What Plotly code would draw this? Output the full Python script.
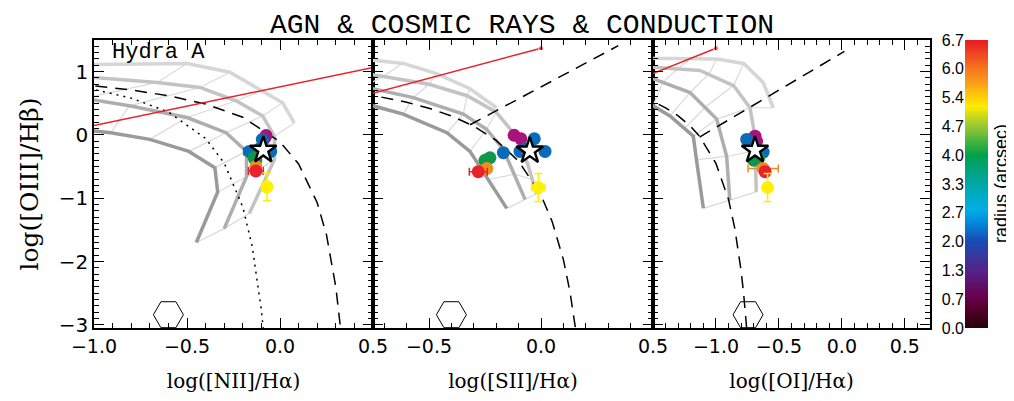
import numpy as np
import plotly.graph_objects as go

# ---------------- data ----------------
TITLE = "AGN &amp; COSMIC RAYS &amp; CONDUCTION"
GALAXY = "Hydra A"

# observed line ratios (log), grouped by radius colour class
nii_x    = [-0.075, -0.085, -0.095, -0.165, -0.05, -0.11, -0.14, -0.13, -0.13, -0.13, -0.07]
nii_y    = [-0.01, -0.06, -0.07, -0.26, -0.26, -0.22, -0.36, -0.40, -0.50, -0.57, -0.82]
nii_grp  = ["mag", "mag", "blue", "blue", "blue", "blue", "green", "green", "orange", "red", "yellow"]
nii_xerr = [0, 0, 0, 0.03, 0, 0, 0, 0, 0.02, 0.04, 0]
nii_yerr = [0, 0, 0, 0, 0, 0, 0, 0, 0, 0, 0.22]

sii_x    = [-0.12, -0.09, -0.03, -0.168, -0.094, 0.018, -0.07, -0.228, -0.25, -0.242, -0.28, -0.012]
sii_y    = [-0.005, -0.06, -0.06, -0.28, -0.26, -0.26, -0.22, -0.36, -0.40, -0.53, -0.58, -0.83]
sii_grp  = ["mag", "mag", "blue", "blue", "blue", "blue", "blue", "green", "green", "orange", "red", "yellow"]
sii_xerr = [0, 0, 0, 0, 0, 0, 0, 0, 0, 0.02, 0.04, 0.03]
sii_yerr = [0, 0, 0, 0, 0, 0, 0, 0, 0, 0, 0, 0.22]

oi_x    = [-0.756, -0.69, -0.677, -0.625, -0.68, -0.70, -0.66, -0.625, -0.61, -0.59]
oi_y    = [-0.07, -0.02, -0.10, -0.27, -0.22, -0.40, -0.36, -0.53, -0.58, -0.83]
oi_grp  = ["blue", "mag", "mag", "blue", "blue", "green", "green", "orange", "red", "yellow"]
oi_xerr = [0, 0, 0, 0, 0, 0, 0, 0.12, 0.03, 0]
oi_yerr = [0, 0, 0, 0, 0, 0, 0, 0, 0, 0.22]

# integrated value (star) per panel
star_x = [-0.09, -0.05, -0.69]
star_y = [-0.24, -0.25, -0.24]

# hexagon symbol per panel
hex_x = [-0.60, -0.40, -0.745]
hex_y = [-2.84, -2.84, -2.84]

# red model line per panel: start (off-plot) and end point
red_x = [[-1.5, 1.0], [-1.0, 0.0], [-2.0, -1.0]]
red_y = [[-0.155, 1.37], [0.42, 1.37], [0.57, 1.37]]

# demarcation lines
nii_kew_x = [-1.1, -1.0, -0.8, -0.6, -0.4, -0.2, 0.0, 0.1, 0.2, 0.25, 0.3, 0.33]
nii_kew_y = [0.80, 0.775, 0.71, 0.62, 0.489, 0.28, -0.108, -0.459, -1.07, -1.58, -2.40, -3.17]
nii_kau_x = [-1.1, -1.0, -0.8, -0.6, -0.4, -0.3, -0.2, -0.15, -0.1, -0.088]
nii_kau_y = [0.77, 0.719, 0.582, 0.362, -0.056, -0.443, -1.14, -1.75, -2.77, -3.12]
sii_kew_x = [-0.8, -0.75, -0.6, -0.5, -0.4, -0.3, -0.2, -0.1, 0.0, 0.05, 0.1, 0.13, 0.16]
sii_kew_y = [0.66, 0.627, 0.517, 0.422, 0.30, 0.139, -0.085, -0.414, -0.95, -1.37, -1.97, -2.49, -3.20]
sii_sey_x = [-0.317, 0.345]
sii_sey_y = [0.161, 1.41]
oi_kew_x = [-1.6, -1.5, -1.4, -1.3, -1.2, -1.13, -1.0, -0.9, -0.85, -0.8, -0.78, -0.76, -0.753]
oi_kew_y = [0.61, 0.528, 0.429, 0.302, 0.133, -0.022, -0.45, -1.02, -1.48, -2.15, -2.51, -2.96, -3.12]
oi_sey_x = [-1.13, 0.02]
oi_sey_y = [-0.033, 1.32]

# model grids: thick curves (darkest -> lightest) and thin connecting lines
nii_thick_x = [[-1.2, -0.91, -0.70, -0.49, -0.35, -0.335, -0.45],
               [-1.1, -0.81, -0.50, -0.29, -0.18, -0.18, -0.30],
               [-1.1, -0.66, -0.43, -0.236, -0.093, -0.03, -0.03, -0.165],
               [-1.1, -0.50, -0.27, -0.093, 0.014, 0.077]]
nii_thick_y = [[0.12, 0.035, -0.07, -0.26, -0.52, -0.90, -1.70],
               [0.60, 0.46, 0.275, 0.035, -0.26, -0.66, -1.48],
               [0.93, 0.83, 0.75, 0.54, 0.30, -0.02, -0.39, -1.24],
               [1.11, 1.13, 0.99, 0.70, 0.51, 0.19]]
nii_thin_x = [[-1.05, -0.66, -0.50], [-0.91, -0.81, -0.43, -0.27], [-0.70, -0.50, -0.236, -0.093],
              [-0.49, -0.29, -0.093, 0.014], [-0.35, -0.18, -0.03, 0.077], [-0.335, -0.18, -0.03],
              [-0.45, -0.30, -0.165]]
nii_thin_y = [[0.58, 0.83, 1.13], [0.035, 0.46, 0.75, 0.99], [-0.07, 0.275, 0.54, 0.70],
              [-0.26, 0.035, 0.30, 0.51], [-0.52, -0.26, -0.02, 0.19], [-0.90, -0.66, -0.39],
              [-1.70, -1.48, -1.24]]

sii_thick_x = [[-0.95, -0.75, -0.615, -0.42, -0.317, -0.153],
               [-0.95, -0.75, -0.57, -0.347, -0.243, -0.168, -0.071],
               [-0.95, -0.75, -0.50, -0.33, -0.20, -0.124, -0.06, -0.02],
               [-0.95, -0.75, -0.615, -0.466, -0.317, -0.198]]
sii_thick_y = [[0.55, 0.46, 0.33, 0.035, -0.26, -1.16],
               [0.80, 0.73, 0.59, 0.33, 0.09, -0.23, -1.02],
               [1.00, 0.95, 0.80, 0.62, 0.36, 0.035, -0.45, -0.93],
               [1.21, 1.18, 1.13, 0.97, 0.73, 0.43]]
sii_thin_x = [[-0.85, -0.80, -0.70, -0.62], [-0.615, -0.57, -0.50, -0.466], [-0.42, -0.347, -0.33, -0.317],
              [-0.317, -0.243, -0.20, -0.198], [-0.23, -0.12, -0.04], [-0.153, -0.071, -0.02]]
sii_thin_y = [[0.51, 0.75, 0.93, 1.13], [0.33, 0.59, 0.80, 0.97], [0.035, 0.33, 0.62, 0.73],
              [-0.26, 0.09, 0.36, 0.43], [-0.70, -0.62, -0.70], [-1.16, -1.02, -0.93]]

oi_thick_x = [[-1.6, -1.5, -1.365, -1.18, -1.155, -1.10],
              [-1.6, -1.5, -1.206, -0.994, -0.915, -0.89],
              [-1.6, -1.5, -1.127, -0.86, -0.73, -0.69, -0.68],
              [-1.6, -1.5, -0.994, -0.78, -0.625, -0.545]]
oi_thick_y = [[0.55, 0.46, 0.30, -0.02, -0.39, -1.16],
              [0.92, 0.89, 0.67, 0.25, -0.34, -1.03],
              [1.09, 1.07, 1.02, 0.78, 0.43, -0.02, -0.90],
              [1.22, 1.21, 1.20, 1.13, 0.83, 0.43]]
oi_thin_x = [[-1.5, -1.42, -1.30, -1.20], [-1.365, -1.206, -1.05, -0.994], [-1.25, -1.08, -0.86, -0.78],
             [-1.18, -0.994, -0.73, -0.545], [-1.155, -0.915, -0.69], [-1.10, -0.89, -0.68]]
oi_thin_y = [[0.46, 0.84, 1.05, 1.21], [0.30, 0.67, 0.98, 1.20], [0.10, 0.45, 0.78, 1.13],
             [-0.02, 0.25, 0.43, 0.43], [-0.39, -0.34, -0.25], [-1.16, -1.03, -0.90]]

# colour bar
cb_min, cb_max = 0.0, 6.7
cb_tickvals = [0.0, 0.67, 1.34, 2.01, 2.68, 3.35, 4.02, 4.69, 5.36, 6.03, 6.7]
cb_ticktext = ["0.0", "0.7", "1.3", "2.0", "2.7", "3.3", "4.0", "4.7", "5.4", "6.0", "6.7"]

# axis ranges / ticks
x_ranges = [[-1.0, 0.5], [-0.75, 0.5], [-1.5, 0.7]]
x_ticks = [[-1.0, -0.5, 0.0, 0.5], [-0.5, 0.0, 0.5], [-1.0, -0.5, 0.0, 0.5]]
x_titles = ["log([NII]/Hα)", "log([SII]/Hα)", "log([OI]/Hα)"]
y_range = [-3.05, 1.5]
y_ticks = [-3, -2, -1, 0, 1]
y_title = "log([OIII]/Hβ)"

# ---------------- styles ----------------
GROUP_COLORS = {"mag": "#a8137c", "blue": "#0a6cb8", "green": "#10984a",
                "orange": "#f28a22", "red": "#e8222a", "yellow": "#fff000"}
GROUP_ORDER = ["mag", "blue", "green", "orange", "red", "yellow"]
THICK_COLORS = ["#9a9a9a", "#aeaeae", "#c3c3c3", "#d6d6d6"]
THIN_COLOR = "#dadada"
RAINBOW = [[0.0, "rgb(40,0,10)"], [0.07, "rgb(85,0,45)"], [0.11, "rgb(105,0,80)"],
           [0.2, "rgb(85,35,135)"], [0.3, "rgb(25,75,180)"], [0.37, "rgb(0,140,220)"],
           [0.41, "rgb(0,175,230)"], [0.5, "rgb(0,168,168)"], [0.6, "rgb(0,160,75)"],
           [0.7, "rgb(150,200,50)"], [0.77, "rgb(255,235,0)"], [0.86, "rgb(250,150,25)"],
           [0.92, "rgb(245,100,30)"], [1.0, "rgb(230,25,35)"]]

# the page body adds an 8px margin, so the figure is shrunk and coordinates shifted by it
OFF = 8
W, H = 1014 - OFF, 401 - OFF
PX = lambda p: (p - OFF) / W
PY = lambda p: 1 - (p - OFF) / H
x_domains = [[PX(94), PX(373)], [PX(373), PX(653)], [PX(653), PX(930)]]
y_domain = [PY(328), PY(40)]

fig = go.Figure()

panels = [
    (nii_x, nii_y, nii_grp, nii_xerr, nii_yerr, nii_thick_x, nii_thick_y, nii_thin_x, nii_thin_y),
    (sii_x, sii_y, sii_grp, sii_xerr, sii_yerr, sii_thick_x, sii_thick_y, sii_thin_x, sii_thin_y),
    (oi_x, oi_y, oi_grp, oi_xerr, oi_yerr, oi_thick_x, oi_thick_y, oi_thin_x, oi_thin_y),
]
demarc = [
    [(nii_kew_x, nii_kew_y, "12px,8px"), (nii_kau_x, nii_kau_y, "2px,5px")],
    [(sii_kew_x, sii_kew_y, "12px,8px"), (sii_sey_x, sii_sey_y, "12px,8px")],
    [(oi_kew_x, oi_kew_y, "12px,8px"), (oi_sey_x, oi_sey_y, "12px,8px")],
]

for k, (px_, py_, grp, xe, ye, tkx, tky, tnx, tny) in enumerate(panels):
    xa = "x" if k == 0 else f"x{k+1}"
    ya = "y" if k == 0 else f"y{k+1}"
    for lx, ly in zip(tnx, tny):
        fig.add_trace(go.Scatter(x=lx, y=ly, mode="lines", xaxis=xa, yaxis=ya,
                                 line=dict(color=THIN_COLOR, width=1.2), showlegend=False, hoverinfo="skip"))
    for i, (lx, ly) in enumerate(zip(tkx, tky)):
        fig.add_trace(go.Scatter(x=lx, y=ly, mode="lines", xaxis=xa, yaxis=ya,
                                 line=dict(color=THICK_COLORS[i], width=3.5), showlegend=False, hoverinfo="skip"))
    for lx, ly, dash in demarc[k]:
        fig.add_trace(go.Scatter(x=lx, y=ly, mode="lines", xaxis=xa, yaxis=ya,
                                 line=dict(color="black", width=1.5, dash=dash), showlegend=False))
    fig.add_trace(go.Scatter(x=red_x[k], y=red_y[k], mode="lines+markers", xaxis=xa, yaxis=ya,
                             line=dict(color="#e8222a", width=1.5),
                             marker=dict(size=[0, 5], color="#e8222a"), showlegend=False))
    for g in GROUP_ORDER:
        idx = [i for i, gg in enumerate(grp) if gg == g]
        if not idx:
            continue
        c = GROUP_COLORS[g]
        fig.add_trace(go.Scatter(
            x=[px_[i] for i in idx], y=[py_[i] for i in idx], mode="markers", xaxis=xa, yaxis=ya,
            marker=dict(size=13, color=c, line=dict(width=0)),
            error_x=dict(type="data", array=[xe[i] for i in idx], color=c, thickness=1.5, width=4),
            error_y=dict(type="data", array=[ye[i] for i in idx], color=c, thickness=1.5, width=4),
            showlegend=False))
    fig.add_trace(go.Scatter(x=[star_x[k]], y=[star_y[k]], mode="markers", xaxis=xa, yaxis=ya,
                             marker=dict(symbol="star", size=20, color="white",
                                         line=dict(color="black", width=2.4)), showlegend=False))
    fig.add_trace(go.Scatter(x=[hex_x[k]], y=[hex_y[k]], mode="markers", xaxis=xa, yaxis=ya,
                             marker=dict(symbol="hexagon2-open", size=30, color="black",
                                         line=dict(color="black", width=1)), showlegend=False))

# colour bar drawn as a heatmap on its own axis
cb_levels = np.linspace(cb_min, cb_max, 301)
fig.add_trace(go.Heatmap(x=[0], y=cb_levels, z=[[v] for v in cb_levels], colorscale=RAINBOW,
                         zmin=cb_min, zmax=cb_max, showscale=False, xaxis="x4", yaxis="y4",
                         hoverinfo="skip"))

tick_font_x = dict(family="DejaVu Sans, sans-serif", size=19, color="black")
tick_font_y = dict(family="DejaVu Sans, sans-serif", size=20, color="black")
xtitle_font = dict(family="DejaVu Serif, serif", size=20, color="black")

layout = dict(width=W, height=H, margin=dict(l=0, r=0, t=0, b=0, autoexpand=False),
              paper_bgcolor="white", plot_bgcolor="white", showlegend=False)

for k in range(3):
    xn = "xaxis" if k == 0 else f"xaxis{k+1}"
    yn = "yaxis" if k == 0 else f"yaxis{k+1}"
    ya = "y" if k == 0 else f"y{k+1}"
    xa = "x" if k == 0 else f"x{k+1}"
    layout[xn] = dict(domain=x_domains[k], range=x_ranges[k], anchor=ya, automargin=False,
                      tickvals=x_ticks[k], tickformat=".1f", ticks="inside", ticklen=10,
                      tickwidth=1.3, tickcolor="black", showline=True, linecolor="black",
                      linewidth=1.6, mirror="allticks", showgrid=False, zeroline=False,
                      tickfont=tick_font_x,
                      minor=dict(dtick=0.1, tick0=0, ticks="inside", ticklen=5, tickcolor="black",
                                 tickwidth=1.1, showgrid=False),
                      title=dict(text=x_titles[k], font=xtitle_font, standoff=18))
    layout[yn] = dict(domain=y_domain, range=y_range, anchor=xa, automargin=False,
                      tickvals=y_ticks, ticks="inside", ticklen=10, tickwidth=1.3,
                      tickcolor="black", showline=True, linecolor="black", linewidth=1.6,
                      mirror="allticks", showgrid=False, zeroline=False,
                      showticklabels=(k == 0), tickfont=tick_font_y,
                      minor=dict(dtick=0.1, tick0=0, ticks="inside", ticklen=5, tickcolor="black",
                                 tickwidth=1.1, showgrid=False))
    if k == 0:
        layout[yn]["title"] = dict(text=y_title, standoff=13,
                                   font=dict(family="DejaVu Serif, serif", size=25, color="black"))

layout["xaxis4"] = dict(domain=[PX(965), PX(988)], range=[-0.5, 0.5], anchor="y4", automargin=False,
                        showticklabels=False, ticks="", showgrid=False, zeroline=False, showline=False)
layout["yaxis4"] = dict(domain=y_domain, range=[cb_min, cb_max], anchor="x4", side="left",
                        automargin=False, tickvals=cb_tickvals, ticktext=cb_ticktext, ticks="",
                        showgrid=False, zeroline=False, showline=False,
                        tickfont=dict(family="Liberation Sans, Arial, sans-serif", size=16, color="black"))

layout["annotations"] = [
    dict(text=TITLE, x=PX(522), y=PY(25), xref="paper", yref="paper", showarrow=False,
         xanchor="center", yanchor="middle",
         font=dict(family="Liberation Mono, monospace", size=28, color="black")),
    dict(text=GALAXY, x=PX(110), y=PY(52), xref="paper", yref="paper", showarrow=False,
         xanchor="left", yanchor="middle",
         font=dict(family="Liberation Mono, monospace", size=22, color="black")),
    dict(text="radius (arcsec)", x=PX(1001), y=PY(184), xref="paper", yref="paper",
         showarrow=False, textangle=-90, xanchor="center", yanchor="middle",
         font=dict(family="Liberation Sans, Arial, sans-serif", size=18, color="black")),
]

fig.update_layout(**layout)
fig.write_html("out.html")
